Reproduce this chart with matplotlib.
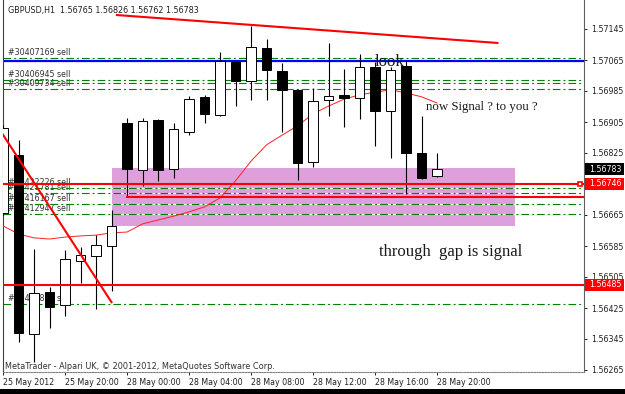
import matplotlib
matplotlib.use('Agg')
import matplotlib.pyplot as plt
from matplotlib.patches import Rectangle
from matplotlib.transforms import blended_transform_factory

plt.rcParams['lines.scale_dashes'] = False
plt.rcParams['font.family'] = ['DejaVu Sans']

# ---------------- data ----------------
title = "GBPUSD,H1  1.56765 1.56826 1.56762 1.56783"
footer = "MetaTrader - Alpari UK, \u00a9 2001-2012, MetaQuotes Software Corp."

opens  = [1.56670, 1.56820, 1.56358, 1.56466, 1.56433, 1.56546, 1.56559, 1.56585,
          1.56902, 1.56781, 1.56910, 1.56784, 1.56879, 1.56970, 1.56923, 1.57060,
          1.57011, 1.57096, 1.57037, 1.56988, 1.56802, 1.56962, 1.56975, 1.56967,
          1.57047, 1.56933, 1.57050, 1.56825, 1.56765]
highs  = [1.56897, 1.56859, 1.56577, 1.56479, 1.56575, 1.56582, 1.56613, 1.56678,
          1.56915, 1.56915, 1.56913, 1.56902, 1.56972, 1.56975, 1.57086, 1.57062,
          1.57153, 1.57119, 1.57057, 1.56990, 1.56993, 1.57109, 1.57042, 1.57080,
          1.57060, 1.57047, 1.57062, 1.56920, 1.56826]
lows   = [1.56665, 1.56337, 1.56286, 1.56373, 1.56404, 1.56490, 1.56422, 1.56469,
          1.56711, 1.56740, 1.56753, 1.56760, 1.56871, 1.56902, 1.56920, 1.56946,
          1.56962, 1.56962, 1.56879, 1.56755, 1.56789, 1.56920, 1.56892, 1.56913,
          1.56843, 1.56812, 1.56719, 1.56758, 1.56762]
closes = [1.56890, 1.56360, 1.56464, 1.56428, 1.56551, 1.56562, 1.56588, 1.56637,
          1.56784, 1.56908, 1.56781, 1.56887, 1.56964, 1.56926, 1.57062, 1.57011,
          1.57099, 1.57039, 1.56988, 1.56799, 1.56959, 1.56972, 1.56967, 1.57047,
          1.56933, 1.57039, 1.56825, 1.56760, 1.56783]
ma     = [1.56637, 1.56616, 1.56606, 1.56603, 1.56608, 1.56611, 1.56613, 1.56619,
          1.56621, 1.56642, 1.56652, 1.56662, 1.56673, 1.56686, 1.56709, 1.56753,
          1.56804, 1.56846, 1.56871, 1.56895, 1.56926, 1.56946, 1.56964, 1.56975,
          1.56982, 1.56988, 1.56980, 1.56970, 1.56954]

time_label_bars = [0, 4, 8, 12, 16, 20, 24, 28]
time_labels = ["25 May 2012", "25 May 20:00", "28 May 00:00", "28 May 04:00",
               "28 May 08:00", "28 May 12:00", "28 May 16:00", "28 May 20:00"]
price_tick_labels = ["1.57145", "1.57065", "1.56985", "1.56905", "1.56825", "1.56745",
                     "1.56665", "1.56585", "1.56505", "1.56425", "1.56345", "1.56265"]

sell_prices = [1.57070, 1.57013, 1.57006, 1.56990,
               1.56735, 1.56722, 1.56693, 1.56668, 1.56435]
sell_labels = ["#30407169 sell", "#30406945 sell", "", "#30409734 sell",
               "#30422226 sell", "#30421781 sell", "#30416167 sell", "#30412947 sell",
               "#30413833 sell"]

blue_level = 1.57062
red_levels_full = [1.56746, 1.56485]
red_level_partial = 1.56711
red_level_partial_start = 8

band_bars = [7, 33]
band_prices = [1.56637, 1.56786]

trend_top_bars = [7.35, 31.9]
trend_top_prices = [1.57181, 1.57109]
trend_left_bars = [-0.5, 7.0]
trend_left_prices = [1.56903, 1.56440]

price_boxes = [("1.56783", 1.56783, "black"),
               ("1.56746", 1.56746, "#ff0000"),
               ("1.56485", 1.56485, "#ff0000")]

# ---------------- figure ----------------
W, H = 625, 394
fig = plt.figure(figsize=(W / 100, H / 100), dpi=100)
fig.patch.set_facecolor('white')
ax = fig.add_axes([3 / W, (H - 372) / H, 581 / W, 372 / H])

y_top = 1.57145 + 29 * 0.0008 / 31
y_bot = 1.57145 - 343 * 0.0008 / 31
ax.set_ylim(y_bot, y_top)
ax.set_xlim(0, 581 / 15.5)

px = 0.0008 / 31  # price per pixel

# band
ax.add_patch(Rectangle((band_bars[0], band_prices[0]), band_bars[1] - band_bars[0],
                       band_prices[1] - band_prices[0], facecolor='#dda0dd',
                       edgecolor='none', zorder=1))

# sell lines (green dash-dot) with labels
for p, lab in zip(sell_prices, sell_labels):
    ax.axhline(p, color='white', lw=0.8, zorder=1.5)
    ax.axhline(p, color='#008000', lw=0.8, linestyle=(0, (5.5, 2.2, 1.4, 2.2)), zorder=2.2)
    if lab:
        ax.annotate(lab, xy=(0, p), xycoords=blended_transform_factory(ax.transAxes, ax.transData),
                    xytext=(3.6, 2.0), textcoords='offset points', fontsize=5.7,
                    color='#303030', va='baseline', ha='left', zorder=2)

# blue level
ax.axhline(blue_level, color='#0000ff', lw=1.6, zorder=2.4)

# moving average
ax.plot(range(len(ma)), ma, color='#ff2020', lw=0.7, zorder=2.6)

# candles
w = 0.62
for i, (o, h, l, c) in enumerate(zip(opens, highs, lows, closes)):
    ax.vlines(i, l, h, color='black', lw=0.8, zorder=3)
    bottom = min(o, c)
    height = max(abs(c - o), 1.5 * px)
    fc = 'white' if c >= o else 'black'
    ax.add_patch(Rectangle((i - w / 2, bottom), w, height, facecolor=fc,
                           edgecolor='black', lw=0.7, zorder=3.2))

# red levels
for p in red_levels_full:
    ax.axhline(p, color='#ff0000', lw=1.5, zorder=4)
ax.plot([red_level_partial_start, 581 / 15.5], [red_level_partial] * 2,
        color='#ff0000', lw=1.5, zorder=4)

# trend lines
ax.plot(trend_top_bars, trend_top_prices, color='#ff0000', lw=1.5, zorder=4)
ax.plot(trend_left_bars, trend_left_prices, color='#ff0000', lw=1.5, zorder=4)

# annotations
ax.text(24.97, 1.57050, "look", fontsize=12, family='Liberation Serif',
        color='#1a1a1a', ha='center', va='baseline', zorder=5)
ax.text(27.29, 1.56936, "now Signal ? to you ?", fontsize=9.3, family='Liberation Serif',
        color='#1a1a1a', ha='left', va='baseline', zorder=5)
ax.text(24.26, 1.56559, "through  gap is signal", fontsize=12, family='Liberation Serif',
        color='#1a1a1a', ha='left', va='baseline', zorder=5)

# axes styling
for s in ['top']:
    ax.spines[s].set_visible(False)
ax.spines['left'].set_color('#404040')
ax.spines['left'].set_linewidth(0.8)
ax.spines['right'].set_color('#606060')
ax.spines['right'].set_linewidth(0.8)
ax.spines['bottom'].set_color('#808080')
ax.spines['bottom'].set_linewidth(0.8)
ax.spines['bottom'].set_linestyle((0, (1, 1)))

ax.yaxis.tick_right()
price_tick_values = [float(t) for t in price_tick_labels]
ax.set_yticks(price_tick_values)
ax.set_yticklabels(price_tick_labels)
ax.set_xticks(time_label_bars)
ax.set_xticklabels(time_labels, ha='left')
ax.tick_params(axis='both', labelsize=5.7, colors='#202020', length=2.5, width=0.7)
ax.tick_params(axis='y', pad=2.5)
ax.tick_params(axis='x', pad=1.5)

# price boxes on the right
bt = blended_transform_factory(ax.transAxes, ax.transData)
for txt, p, col in price_boxes:
    ax.add_patch(Rectangle((1.0015, p - 6 * px), 39 / 581, 12 * px, transform=bt,
                           facecolor=col, edgecolor='none', clip_on=False, zorder=10))
    ax.text(1.0 + 5.5 / 581, p, txt, transform=bt, color='white', fontsize=5.7,
            va='center', ha='left', clip_on=False, zorder=11)
# small marker at the 1.56746 level near the right edge
ax.plot([580.5 / 15.5 - 0.2], [1.56746], marker='s', markersize=3.2, markerfacecolor='white',
        markeredgecolor='#ff0000', markeredgewidth=1.2, zorder=6, clip_on=False)

fig.text(8 / W, 1 - 13 / H, title, fontsize=5.8, color='#202020', va='baseline', ha='left')
fig.text(5 / W, 1 - 369 / H, footer, fontsize=5.9, color='#303030', va='baseline', ha='left')
fig.patches.append(Rectangle((0, 0), 1, 5 / H, transform=fig.transFigure,
                             facecolor='black', edgecolor='none'))

fig.savefig('out.png', dpi=100)
